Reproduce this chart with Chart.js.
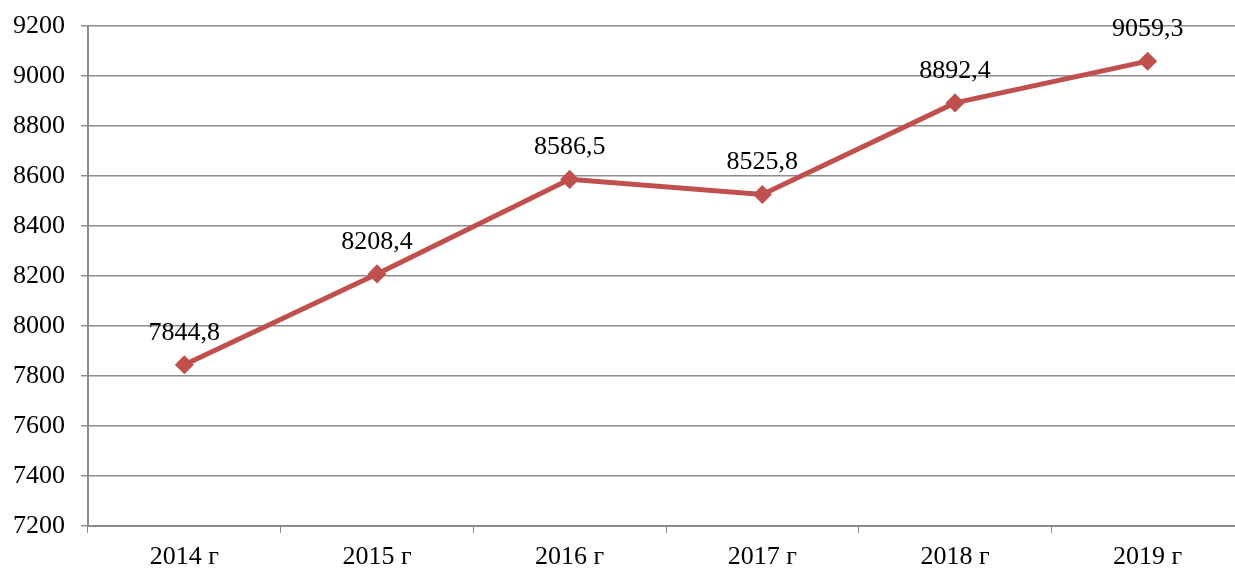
<!DOCTYPE html>
<html>
<head>
  <script src="https://cdn.jsdelivr.net/npm/chart.js"></script>
  <style>
    body { margin: 0; background: #fff; overflow: hidden; }
  </style>
</head>
<body>
  <canvas id="lineChart" width="1244" height="569"></canvas>
<script>
const years = ['2014 г', '2015 г', '2016 г', '2017 г', '2018 г', '2019 г'];
const values = [7844.8, 8208.4, 8586.5, 8525.8, 8892.4, 9059.3];
const yMin = 7200, yMax = 9200, yStep = 200;

const fontSerif = { family: '"Liberation Serif", "Times New Roman", serif', size: 26 };

// подписи значений над точками
const valueLabels = {
  id: 'valueLabels',
  afterDatasetsDraw(chart) {
    const ctx = chart.ctx;
    const meta = chart.getDatasetMeta(0);
    ctx.save();
    ctx.font = '26px "Liberation Serif", "Times New Roman", serif';
    ctx.fillStyle = '#000';
    ctx.textAlign = 'center';
    ctx.textBaseline = 'middle';
    meta.data.forEach((pt, i) => {
      ctx.fillText(values[i].toFixed(1).replace('.', ','), pt.x, pt.y - 32);
    });
    ctx.restore();
  }
};

new Chart(document.getElementById('lineChart'), {
  type: 'line',
  data: {
    labels: years,
    datasets: [{
      data: values,
      borderColor: '#C0504D',
      backgroundColor: '#C0504D',
      borderWidth: 5,
      pointStyle: 'rectRot',
      pointRadius: 6,
      pointHoverRadius: 6,
      tension: 0
    }]
  },
  options: {
    responsive: false,
    animation: false,
    layout: { autoPadding: false, padding: { top: 26, right: 0, left: 0, bottom: 0 } },
    plugins: { legend: { display: false }, tooltip: { enabled: false } },
    scales: {
      x: {
        offset: true,
        grid: { offset: true, drawOnChartArea: false, color: '#8c8c8c', tickLength: 7 },
        border: { color: '#8c8c8c', width: 2 },
        ticks: { color: '#000', font: fontSerif, padding: 9, maxRotation: 0 },
        afterFit(scale) {
          scale.height = 43;
          scale.paddingLeft = 0;
          scale.paddingRight = 0;
        }
      },
      y: {
        min: yMin,
        max: yMax,
        grid: { color: '#8c8c8c', lineWidth: 1.5, tickLength: 7 },
        border: { color: '#8c8c8c', width: 2 },
        ticks: { stepSize: yStep, color: '#000', font: fontSerif, padding: 16, callback: v => String(v) },
        afterFit(scale) {
          scale.width = 88;
          scale.paddingTop = 0;
          scale.paddingBottom = 0;
        }
      }
    }
  },
  plugins: [valueLabels]
});
</script>
</body>
</html>
